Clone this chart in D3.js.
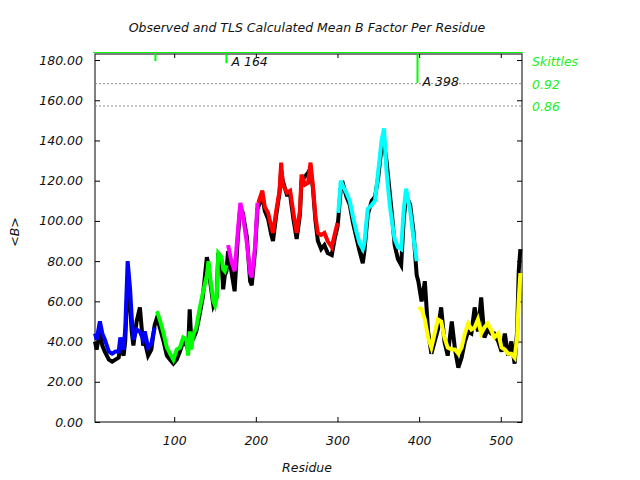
<!DOCTYPE html>
<html>
<head>
<meta charset="utf-8">
<script src="https://d3js.org/d3.v7.min.js"></script>
<style>
  body { margin: 0; background: #fff; }
  svg text { font-family: "DejaVu Sans", sans-serif; font-style: italic; }
</style>
</head>
<body>
<svg id="chart" width="640" height="480"></svg>
<script>
// residue numbers sampled along the chain
const residues = [
  3, 5, 9, 12, 15, 20, 24, 28, 32, 34, 38, 40, 43, 46, 48, 50, 54, 58, 62, 64, 68, 72, 76,
  79, 83, 87, 91, 95, 99, 103, 107, 111, 115, 117, 119, 121, 123, 127, 131, 135, 140, 142, 144, 148, 150, 152, 154, 158, 160, 162, 164,
  166, 170, 174, 178, 181, 184, 189, 193, 195, 199, 202,
  203, 208, 211, 215, 219, 221, 225, 229, 231, 233, 238, 242, 246, 250, 254, 256, 260, 264, 267, 270, 273, 276, 280, 284, 288, 293, 297, 300,
  301, 304, 307, 311, 315, 319, 323, 327, 331, 333, 337, 342, 346, 350, 354, 357, 360, 364, 367, 370, 374, 378, 381, 384, 389, 393, 397,
  399, 403, 407, 411, 415, 419, 423, 427, 431, 435, 440, 444, 448, 452, 456, 460, 464, 468, 472, 476, 480, 484, 488, 492, 497, 501, 505, 509, 513, 517, 520, 522, 524
];

// observed mean B per residue
const observedB = [
  40, 36, 45, 38, 35, 31, 30, 31, 32, 38, 33, 40, 70, 58, 45, 38, 50, 57, 38, 40, 33, 36, 48,
  52, 46, 40, 33, 31, 29, 31, 35, 40, 38, 36, 56, 40, 41, 45, 53, 62, 82, 78, 70, 58, 60, 62, 84, 80, 66, 73, 75,
  85, 75, 65, 92, 107, 104, 92, 70, 68, 85, 106,
  107, 112, 105, 101, 93, 90, 103, 114, 125, 120, 113, 113, 101, 91, 103, 120, 122, 124, 126, 116, 100, 90, 86, 88, 84, 83, 92, 97,
  101, 116, 118, 112, 108, 99, 92, 85, 79, 85, 103, 110, 112, 122, 137, 138, 130, 114, 102, 88, 81, 78, 100, 113, 108, 95, 73,
  70, 60, 70, 45, 34, 40, 46, 57, 40, 33, 50, 36, 27, 32, 40, 45, 44, 57, 45, 62, 42, 46, 44, 44, 40, 35, 44, 33, 40, 29, 45, 75, 86
];

// TLS calculated mean B per residue
const tlsB = [
  44, 41, 50, 44, 41, 35, 34, 35, 35, 42, 36, 46, 80, 66, 52, 41, 46, 45, 41, 45, 37, 39, 47,
  55, 50, 44, 37, 34, 31, 36, 37, 42, 41, 33, 45, 36, 43, 47, 56, 64, 73, 80, 72, 60, 58, 62, 84, 82, 76, 75, 78,
  88, 80, 75, 95, 109, 103, 89, 74, 72, 87, 109,
  109, 115, 107, 104, 97, 94, 105, 115, 129, 118, 114, 115, 104, 94, 105, 123, 118, 119, 129, 117, 102, 94, 93, 94, 90, 87, 94, 99,
  104, 120, 117, 114, 110, 102, 95, 89, 86, 89, 106, 108, 110, 125, 140, 146, 125, 108, 99, 91, 87, 86, 105, 116, 105, 92, 80,
  57, 56, 51, 42, 37, 44, 51, 50, 42, 37, 36, 36, 34, 37, 44, 49, 46, 47, 51, 44, 47, 49, 46, 42, 44, 37, 36, 34, 34, 32, 42, 61, 74
];

// TLS segments
const segmentStarts = [1, 78, 165, 203, 301, 398];
const segmentColors = ['#0000ff', '#00ff00', '#ff00ff', '#ff0000', '#00ffff', '#ffff00'];

// skittles markers along the top
const skittleResidues = [77, 164, 398];
const skittleValues = [0.981, 0.975, 0.922];
const skittleLabels = ['', 'A 164', 'A 398'];
const skittleLevels = [0.92, 0.86];

const yTicks = [0, 20, 40, 60, 80, 100, 120, 140, 160, 180];
const xTicks = [100, 200, 300, 400, 500];

const plotLeft = 95, plotRight = 522, plotTop = 54, plotBottom = 422;
const svg = d3.select('#chart');

const x = d3.scaleLinear().domain([3, 526]).range([plotLeft, plotRight]);
const y = d3.scaleLinear().domain([0, 183]).range([plotBottom, plotTop]);
const ys = d3.scaleLinear().domain([0.86, 1.0]).range([106, plotTop]);

// frame
svg.append('rect')
  .attr('x', plotLeft).attr('y', plotTop)
  .attr('width', plotRight - plotLeft).attr('height', plotBottom - plotTop)
  .attr('fill', 'none').attr('stroke', '#000').attr('stroke-width', 1);

// dotted skittle thresholds
svg.selectAll('line.level').data(skittleLevels).join('line')
  .attr('class', 'level')
  .attr('x1', plotLeft).attr('x2', plotRight)
  .attr('y1', (d) => ys(d)).attr('y2', (d) => ys(d))
  .attr('stroke', '#888').attr('stroke-dasharray', '2,2');

// axes, ticks point inwards
const yLeft = d3.axisLeft(y).tickValues(yTicks).tickSizeInner(-5).tickSizeOuter(0)
  .tickPadding(12).tickFormat(d3.format('.2f'));
const yRight = d3.axisRight(y).tickValues(yTicks).tickSizeInner(-5).tickSizeOuter(0).tickFormat('');
const xBottom = d3.axisBottom(x).tickValues(xTicks).tickSizeInner(-5).tickSizeOuter(0).tickPadding(14);
const xTop = d3.axisTop(x).tickValues(xTicks).tickSizeInner(-4).tickSizeOuter(0).tickFormat('');

function styleAxis(g) {
  g.select('.domain').remove();
  g.selectAll('text').attr('font-size', 12.5).attr('fill', '#111')
    .attr('font-family', '"DejaVu Sans", sans-serif').attr('font-style', 'italic');
}

svg.append('g').attr('transform', `translate(${plotLeft},0)`).call(yLeft).call(styleAxis);
svg.append('g').attr('transform', `translate(${plotRight},0)`).call(yRight).call(styleAxis);
svg.append('g').attr('transform', `translate(0,${plotBottom})`).call(xBottom).call(styleAxis);
svg.append('g').attr('transform', `translate(0,${plotTop})`).call(xTop).call(styleAxis);

const points = residues.map((r, i) => ({ r, obs: observedB[i], tls: tlsB[i] }));

const obsLine = d3.line().x((d) => x(d.r)).y((d) => y(d.obs));
const tlsLine = d3.line().x((d) => x(d.r)).y((d) => y(d.tls));

svg.append('path').datum(points)
  .attr('d', obsLine)
  .attr('fill', 'none').attr('stroke', '#000').attr('stroke-width', 4);

segmentStarts.forEach((start, k) => {
  const end = k + 1 < segmentStarts.length ? segmentStarts[k + 1] : Infinity;
  const seg = points.filter((d) => d.r >= start && d.r < end);
  svg.append('path').datum(seg)
    .attr('d', tlsLine)
    .attr('fill', 'none').attr('stroke', segmentColors[k]).attr('stroke-width', 4);
});

// skittles
svg.append('line')
  .attr('x1', plotLeft - 2).attr('x2', plotRight + 1).attr('y1', plotTop - 1.5).attr('y2', plotTop - 1.5)
  .attr('stroke', '#00ff00').attr('stroke-width', 1);

const skittles = skittleResidues.map((r, i) => ({ r, v: skittleValues[i], label: skittleLabels[i] }));
svg.selectAll('line.skittle').data(skittles).join('line')
  .attr('class', 'skittle')
  .attr('x1', (d) => x(d.r)).attr('x2', (d) => x(d.r))
  .attr('y1', plotTop).attr('y2', (d) => ys(d.v))
  .attr('stroke', '#00ff00').attr('stroke-width', 2);
svg.selectAll('text.skittle').data(skittles).join('text')
  .attr('class', 'skittle')
  .attr('x', (d) => x(d.r) + 5).attr('y', (d) => ys(d.v) + 3)
  .attr('font-size', 12.5).attr('fill', '#111')
  .text((d) => d.label);

// legend on the right
svg.append('text').attr('x', 532).attr('y', 66).attr('font-size', 12.5).attr('fill', '#22ee22').text('Skittles');
svg.selectAll('text.lvl').data(skittleLevels).join('text')
  .attr('class', 'lvl')
  .attr('x', 532).attr('y', (d) => ys(d) + 5)
  .attr('font-size', 12.5).attr('fill', '#22ee22')
  .text((d) => d.toFixed(2));

// titles
svg.append('text').attr('x', 307).attr('y', 32).attr('text-anchor', 'middle')
  .attr('font-size', 12.5).attr('fill', '#111')
  .text('Observed and TLS Calculated Mean B Factor Per Residue');
svg.append('text').attr('x', 307).attr('y', 472).attr('text-anchor', 'middle')
  .attr('font-size', 12.5).attr('fill', '#111').text('Residue');
svg.append('text').attr('transform', 'translate(19,232) rotate(-90)').attr('text-anchor', 'middle')
  .attr('font-size', 12.5).attr('fill', '#111').text('<B>');
</script>
</body>
</html>
